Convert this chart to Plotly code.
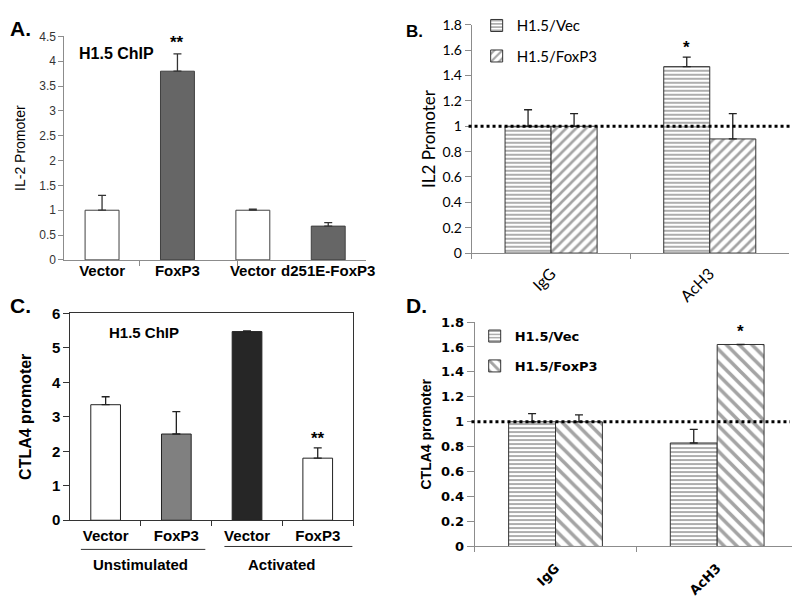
import plotly.graph_objects as go

W, H = 800, 597
def px(x): return x / W
def py(y): return 1 - y / H

# ---------------- DATA ----------------
# Panel A
a_labels = ["Vector", "FoxP3", "Vector", "d251E-FoxP3"]
a_values = [1.0, 3.8, 1.0, 0.68]
a_err = [0.3, 0.35, 0.02, 0.07]
a_colors = ["white", "#666666", "white", "#666666"]
a_sig = ["", "**", "", ""]

# Panel B
b_cats = ["IgG", "AcH3"]
b_vec = [1.0, 1.47]
b_vec_err = [0.13, 0.075]
b_fox = [1.0, 0.9]
b_fox_err = [0.1, 0.2]
b_vec_sig = ["", "*"]
b_series = ["H1.5/Vec", "H1.5/FoxP3"]

# Panel C
c_labels = ["Vector", "FoxP3", "Vector", "FoxP3"]
c_values = [3.35, 2.5, 5.47, 1.8]
c_err = [0.23, 0.65, 0.02, 0.3]
c_colors = ["white", "#808080", "#262626", "white"]
c_sig = ["", "", "", "**"]
c_groups = ["Unstimulated", "Activated"]
c_group_members = [[0, 1], [2, 3]]

# Panel D
d_cats = ["IgG", "AcH3"]
d_vec = [1.0, 0.83]
d_vec_err = [0.065, 0.11]
d_fox = [1.0, 1.62]
d_fox_err = [0.055, 0.0]
d_fox_sig = ["", "*"]
d_series = ["H1.5/Vec", "H1.5/FoxP3"]

# ---------------- FIGURE ----------------
ARIAL = "Liberation Sans"
CALI = "Lato"
VERD = "DejaVu Sans"

def errs(arr, color="#222", w=4):
    return dict(type="data", array=arr, arrayminus=[0] * len(arr), symmetric=False,
                color=color, thickness=1.3, width=w)

STRIPE = "#4a4a4a"

fig = go.Figure()

# A
fig.add_trace(go.Bar(x=list(range(len(a_labels))), y=a_values, width=0.45,
                     marker=dict(color=a_colors, line=dict(color="#404040", width=1)),
                     error_y=errs(a_err, "#333"), xaxis="x", yaxis="y", showlegend=False))
# B
fig.add_trace(go.Bar(x=b_cats, y=b_vec, name=b_series[0], legend="legend", legendgroup="bv",
                     marker=dict(color="white", line=dict(color="#333", width=1),
                                 pattern=dict(shape="-", fgcolor=STRIPE, bgcolor="white", size=4, solidity=0.45)),
                     error_y=errs(b_vec_err), xaxis="x2", yaxis="y2"))
fig.add_trace(go.Bar(x=b_cats, y=b_fox, name=b_series[1], legend="legend", legendgroup="bf",
                     marker=dict(color="white", line=dict(color="#333", width=1),
                                 pattern=dict(shape="/", fgcolor=STRIPE, bgcolor="white", size=7, solidity=0.38)),
                     error_y=errs(b_fox_err), xaxis="x2", yaxis="y2"))
# C
fig.add_trace(go.Bar(x=list(range(len(c_labels))), y=c_values, width=0.42,
                     marker=dict(color=c_colors, line=dict(color="#222", width=1)),
                     error_y=errs(c_err, "#222"), xaxis="x3", yaxis="y3", showlegend=False))
# D
fig.add_trace(go.Bar(x=d_cats, y=d_vec, name=d_series[0], legend="legend2", legendgroup="dv",
                     marker=dict(color="white", line=dict(color="#333", width=1),
                                 pattern=dict(shape="-", fgcolor=STRIPE, bgcolor="white", size=4, solidity=0.45)),
                     error_y=errs(d_vec_err), xaxis="x4", yaxis="y4"))
fig.add_trace(go.Bar(x=d_cats, y=d_fox, name=d_series[1], legend="legend2", legendgroup="df",
                     marker=dict(color="white", line=dict(color="#333", width=1),
                                 pattern=dict(shape="\\", fgcolor=STRIPE, bgcolor="white", size=9, solidity=0.4)),
                     error_y=errs(d_fox_err), xaxis="x4", yaxis="y4"))

ax_common = dict(showgrid=False, zeroline=False, showline=True, fixedrange=True)

fig.update_layout(
    width=W, height=H, margin=dict(l=0, r=0, t=0, b=0),
    paper_bgcolor="white", plot_bgcolor="white",
    barmode="group", bargap=0.42, bargroupgap=0,
    xaxis=dict(**ax_common, domain=[px(57), px(362)], anchor="y", range=[-0.5, 3.5],
               tickmode="array", tickvals=list(range(len(a_labels))), ticktext=a_labels, ticks="",
               linecolor="#8c8c8c", ticklabelstandoff=-3,
               tickfont=dict(family=ARIAL, size=15, color="black", weight="bold"),
               minor=dict(tickvals=[0.5, 1.8], ticks="outside", ticklen=5, tickcolor="#8c8c8c")),
    yaxis=dict(**ax_common, domain=[py(250), py(20)], anchor="x", range=[0, 4.5], dtick=0.5,
               ticks="outside", ticklen=5, tickcolor="#8c8c8c", linecolor="#8c8c8c",
               tickfont=dict(family=ARIAL, size=12, color="#333"),
               title=dict(text="IL-2 Promoter", font=dict(family=ARIAL, size=14, color="black"), standoff=10)),
    xaxis2=dict(**ax_common, domain=[px(469), px(790)], anchor="y2", type="category",
                tickson="boundaries", ticks="outside", ticklen=5, tickcolor="#8c8c8c", linecolor="#8c8c8c",
                tickangle=-45, ticklabelstandoff=4,
                tickfont=dict(family=CALI, size=16, color="black")),
    yaxis2=dict(**ax_common, domain=[py(243), py(8)], anchor="x2", range=[0, 1.8], dtick=0.2,
                ticks="outside", ticklen=6, tickcolor="#8c8c8c", linecolor="#8c8c8c",
                tickfont=dict(family=CALI, size=14, color="black"),
                title=dict(text="IL2 Promoter", font=dict(family=CALI, size=17, color="black"), standoff=2)),
    xaxis3=dict(**ax_common, domain=[px(63), px(349)], anchor="y3", range=[-0.5, 3.5], mirror=True,
                tickmode="array", tickvals=list(range(len(c_labels))), ticktext=c_labels, ticks="",
                linecolor="#333", ticklabelstandoff=2,
                tickfont=dict(family=ARIAL, size=15, color="black", weight="bold"),
                minor=dict(tickvals=[0.5, 1.5, 2.5, 3.5], ticks="outside", ticklen=5, tickcolor="#333")),
    yaxis3=dict(**ax_common, domain=[py(518), py(305)], anchor="x3", range=[0, 6], dtick=1, mirror=True,
                ticks="outside", ticklen=6, tickcolor="#333", linecolor="#333",
                tickfont=dict(family=ARIAL, size=15, color="black", weight="bold"),
                title=dict(text="CTLA4 promoter", font=dict(family=ARIAL, size=16, color="black", weight="bold"), standoff=16)),
    xaxis4=dict(**ax_common, domain=[px(472), px(799)], anchor="y4", type="category",
                tickson="boundaries", ticks="outside", ticklen=5, tickcolor="#8c8c8c", linecolor="#8c8c8c",
                tickangle=-45, ticklabelstandoff=8,
                tickfont=dict(family=VERD, size=13, color="black", weight="bold")),
    yaxis4=dict(**ax_common, domain=[py(545), py(314)], anchor="x4", range=[0, 1.8], dtick=0.2,
                ticks="outside", ticklen=7, tickcolor="#8c8c8c", linecolor="#8c8c8c",
                tickfont=dict(family=VERD, size=13, color="black", weight="bold"),
                title=dict(text="CTLA4 promoter", font=dict(family=ARIAL, size=14, color="black", weight="bold"), standoff=6)),
    legend=dict(x=px(474), y=py(-8), xanchor="left", yanchor="top", bgcolor="rgba(0,0,0,0)",
                font=dict(family=CALI, size=15, color="black"), tracegroupgap=8, itemwidth=30),
    legend2=dict(x=px(472), y=py(313), xanchor="left", yanchor="top", bgcolor="rgba(0,0,0,0)",
                 font=dict(family=VERD, size=13, color="black", weight="bold"), tracegroupgap=10, itemwidth=30),
)

shapes = [
    dict(type="line", xref="x2 domain", yref="y2", x0=-0.01, x1=1.03, y0=1, y1=1,
         line=dict(color="black", width=3, dash="dot")),
    dict(type="line", xref="x4 domain", yref="y4", x0=-0.01, x1=0.975, y0=1, y1=1,
         line=dict(color="black", width=3, dash="dot")),
    dict(type="line", xref="x3", yref="paper", x0=-0.35, x1=1.41, y0=py(548), y1=py(548),
         line=dict(color="#333", width=1)),
    dict(type="line", xref="x3", yref="paper", x0=1.68, x1=3.49, y0=py(545), y1=py(545),
         line=dict(color="#333", width=1)),
]
fig.update_layout(shapes=shapes)

ann = []
def label(x, y, text, size, family=ARIAL, bold=True, xa="left", ya="middle"):
    ann.append(dict(x=px(x), y=py(y), xref="paper", yref="paper", text=text, showarrow=False,
                    xanchor=xa, yanchor=ya,
                    font=dict(family=family, size=size, color="black", weight="bold" if bold else "normal")))

label(0, 12, "A.", 21)
label(400, 15, "B.", 17)
label(0, 297, "C.", 21)
label(400, 297, "D.", 21)
label(70, 38, "H1.5 ChIP", 16)
label(100, 325, "H1.5 ChIP", 15)

# significance marks
for i, s in enumerate(a_sig):
    if s:
        ann.append(dict(x=i, y=a_values[i] + a_err[i], xref="x", yref="y", text=s, showarrow=False,
                        yanchor="bottom", yshift=0, font=dict(family=ARIAL, size=17, color="black", weight="bold")))
for i, s in enumerate(c_sig):
    if s:
        ann.append(dict(x=i, y=c_values[i] + c_err[i], xref="x3", yref="y3", text=s, showarrow=False,
                        yanchor="bottom", yshift=-2, font=dict(family=ARIAL, size=17, color="black", weight="bold")))
for i, s in enumerate(b_vec_sig):
    if s:
        ann.append(dict(x=i - 0.144, y=b_vec[i] + b_vec_err[i], xref="x2", yref="y2", text=s, showarrow=False,
                        yanchor="bottom", yshift=-2, font=dict(family=ARIAL, size=17, color="black", weight="bold")))
for i, s in enumerate(d_fox_sig):
    if s:
        ann.append(dict(x=i + 0.144, y=d_fox[i] + d_fox_err[i], xref="x4", yref="y4", text=s, showarrow=False,
                        yanchor="bottom", yshift=1, font=dict(family=ARIAL, size=17, color="black", weight="bold")))

# group labels in C
for g, members in zip(c_groups, c_group_members):
    ann.append(dict(x=sum(members) / len(members), y=py(564), xref="x3", yref="paper", text=g,
                    showarrow=False, xanchor="center", yanchor="middle",
                    font=dict(family=ARIAL, size=15, color="black", weight="bold")))

fig.update_layout(annotations=ann)
fig.write_html("out.html")
